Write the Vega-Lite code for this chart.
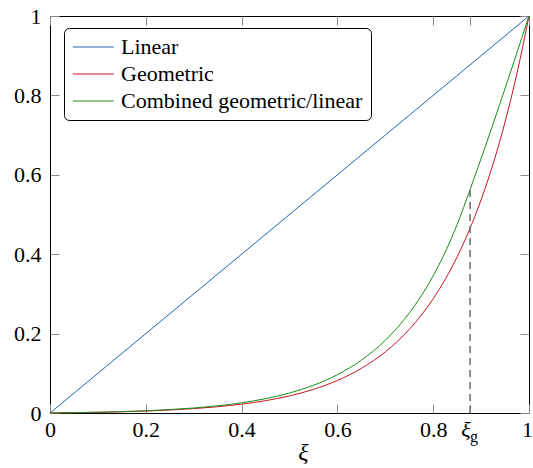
{
  "$schema": "https://vega.github.io/schema/vega-lite/v6.json",
  "width": 479,
  "height": 397,
  "autosize": "none",
  "padding": {"left": 50, "top": 16, "right": 4, "bottom": 55},
  "config": {
    "view": {"stroke": "black", "strokeWidth": 1},
    "font": "Liberation Serif, Times New Roman, serif",
    "axis": {"grid": false, "domain": false, "tickColor": "#8a8a8a", "tickWidth": 1, "tickSize": -9, "labelFont": "Liberation Serif, Times New Roman, serif", "labelFontSize": 22, "labelColor": "black", "labelFlush": false, "labelOverlap": false, "labelBound": false},
    "legend": {"labelFont": "Liberation Serif, Times New Roman, serif"},
    "text": {"font": "Liberation Serif, Times New Roman, serif"}
  },
  "datasets": {
    "curves": [
      {"series": "Linear", "xi": 0, "val": 0},
      {"series": "Linear", "xi": 1, "val": 1},
      {"series": "Geometric", "xi": 0, "val": 0},
      {"series": "Geometric", "xi": 0.05, "val": 0.00074},
      {"series": "Geometric", "xi": 0.1, "val": 0.00175},
      {"series": "Geometric", "xi": 0.15, "val": 0.00312},
      {"series": "Geometric", "xi": 0.2, "val": 0.00499},
      {"series": "Geometric", "xi": 0.25, "val": 0.00755},
      {"series": "Geometric", "xi": 0.3, "val": 0.01103},
      {"series": "Geometric", "xi": 0.35, "val": 0.01578},
      {"series": "Geometric", "xi": 0.4, "val": 0.02225},
      {"series": "Geometric", "xi": 0.45, "val": 0.03107},
      {"series": "Geometric", "xi": 0.5, "val": 0.04311},
      {"series": "Geometric", "xi": 0.55, "val": 0.05951},
      {"series": "Geometric", "xi": 0.6, "val": 0.08188},
      {"series": "Geometric", "xi": 0.65, "val": 0.11237},
      {"series": "Geometric", "xi": 0.7, "val": 0.15396},
      {"series": "Geometric", "xi": 0.75, "val": 0.21064},
      {"series": "Geometric", "xi": 0.775, "val": 0.2463},
      {"series": "Geometric", "xi": 0.8, "val": 0.28793},
      {"series": "Geometric", "xi": 0.825, "val": 0.3366},
      {"series": "Geometric", "xi": 0.85, "val": 0.39333},
      {"series": "Geometric", "xi": 0.875, "val": 0.4596},
      {"series": "Geometric", "xi": 0.9, "val": 0.537},
      {"series": "Geometric", "xi": 0.925, "val": 0.6274},
      {"series": "Geometric", "xi": 0.95, "val": 0.73292},
      {"series": "Geometric", "xi": 0.975, "val": 0.8561},
      {"series": "Geometric", "xi": 1, "val": 1},
      {"series": "Combined geometric/linear", "xi": 0, "val": 0},
      {"series": "Combined geometric/linear", "xi": 0.05, "val": 0.00083},
      {"series": "Combined geometric/linear", "xi": 0.1, "val": 0.00198},
      {"series": "Combined geometric/linear", "xi": 0.15, "val": 0.00354},
      {"series": "Combined geometric/linear", "xi": 0.2, "val": 0.00569},
      {"series": "Combined geometric/linear", "xi": 0.25, "val": 0.00863},
      {"series": "Combined geometric/linear", "xi": 0.3, "val": 0.01266},
      {"series": "Combined geometric/linear", "xi": 0.35, "val": 0.01818},
      {"series": "Combined geometric/linear", "xi": 0.4, "val": 0.02575},
      {"series": "Combined geometric/linear", "xi": 0.45, "val": 0.03612},
      {"series": "Combined geometric/linear", "xi": 0.5, "val": 0.05032},
      {"series": "Combined geometric/linear", "xi": 0.55, "val": 0.06979},
      {"series": "Combined geometric/linear", "xi": 0.6, "val": 0.09647},
      {"series": "Combined geometric/linear", "xi": 0.65, "val": 0.13302},
      {"series": "Combined geometric/linear", "xi": 0.7, "val": 0.1831},
      {"series": "Combined geometric/linear", "xi": 0.75, "val": 0.25173},
      {"series": "Combined geometric/linear", "xi": 0.8, "val": 0.34576},
      {"series": "Combined geometric/linear", "xi": 0.825, "val": 0.40516},
      {"series": "Combined geometric/linear", "xi": 0.85, "val": 0.47462},
      {"series": "Combined geometric/linear", "xi": 0.877, "val": 0.563},
      {"series": "Combined geometric/linear", "xi": 1, "val": 1}
    ],
    "marker": [
      {"xi": 0.877, "y0": 0, "y1": 0.563, "sub": "g"}
    ]
  },
  "layer": [
    {
      "data": {"name": "curves"},
      "mark": {"type": "line", "strokeWidth": 1, "interpolate": "monotone"},
      "encoding": {
        "x": {"field": "xi", "type": "quantitative", "scale": {"domain": [0, 1], "nice": false, "zero": false},
          "axis": {"orient": "bottom", "values": [0, 0.2, 0.4, 0.6, 0.8, 0.877, 1], "labelPadding": 15,
            "labelExpr": "datum.value == 0.877 ? 'ξ' : format(datum.value, '~g')",
            "labelFontStyle": {"condition": {"test": "datum.value == 0.877", "value": "italic"}, "value": "normal"},
            "labelAlign": {"condition": {"test": "datum.value == 0.877", "value": "right"}, "value": "center"},
            "labelOffset": {"condition": {"test": "datum.value == 1", "value": -2}, "value": 0},
            "title": "ξ", "titleFont": "Liberation Serif, Times New Roman, serif", "titleFontSize": 24, "titleFontStyle": "italic", "titleFontWeight": "normal", "titleColor": "black", "titleX": 253, "titleY": 46, "titleBaseline": "alphabetic"}},
        "y": {"field": "val", "type": "quantitative", "scale": {"domain": [0, 1], "nice": false, "zero": false},
          "axis": {"orient": "left", "values": [0, 0.2, 0.4, 0.6, 0.8, 1], "format": "~g", "labelPadding": 18, "title": null}},
        "color": {"field": "series", "type": "nominal",
          "scale": {"domain": ["Linear", "Geometric", "Combined geometric/linear"], "range": ["#1f66b0", "#c8141e", "#1a8a1a"]},
          "legend": {"orient": "none", "legendX": 14, "legendY": 12, "title": null, "symbolType": "M-1,0H3", "symbolSize": 420, "symbolStrokeWidth": 1,
            "labelFont": "Liberation Serif, Times New Roman, serif", "labelFontSize": 22, "labelColor": "black", "labelOffset": 27, "labelLimit": 400,
            "strokeColor": "black", "fillColor": "white", "cornerRadius": 5, "padding": 8, "rowPadding": 5}}
      }
    },
    {
      "data": {"name": "marker"},
      "mark": {"type": "rule", "color": "#707070", "strokeWidth": 1.6, "strokeDash": [7, 5]},
      "encoding": {
        "x": {"field": "xi", "type": "quantitative", "axis": {"orient": "top", "values": [0, 0.2, 0.4, 0.6, 0.8, 0.877, 1], "labels": false, "title": null}},
        "y": {"field": "y0", "type": "quantitative", "axis": {"orient": "right", "values": [0, 0.2, 0.4, 0.6, 0.8, 1], "labels": false, "title": null}},
        "y2": {"field": "y1"}
      }
    },
    {
      "data": {"name": "marker"},
      "mark": {"type": "text", "align": "left", "baseline": "alphabetic", "dx": 0, "dy": 29, "fontSize": 16, "color": "black"},
      "encoding": {
        "x": {"field": "xi", "type": "quantitative", "axis": null},
        "y": {"field": "y0", "type": "quantitative", "axis": null},
        "text": {"field": "sub"}
      }
    }
  ],
  "resolve": {"axis": {"x": "independent", "y": "independent"}}
}
